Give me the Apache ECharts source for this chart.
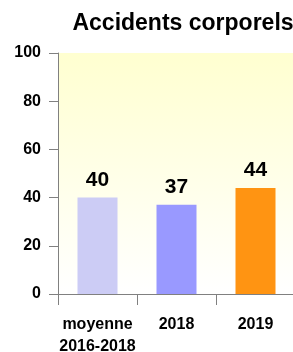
<!DOCTYPE html>
<html>
<head>
<meta charset="utf-8">
<script src="https://cdn.jsdelivr.net/npm/echarts@6/dist/echarts.min.js"></script>
<style>
  html, body { margin: 0; padding: 0; background: #fff; }
  #chart { width: 293px; height: 352px; }
</style>
</head>
<body>
<div id="chart"></div>
<script>
// données
const categories = ['moyenne\n2016-2018', '2018', '2019']
const values = [40, 37, 44]
const barColors = ['#ccccf5', '#9999ff', '#ff9412']
const yTicks = [0, 20, 40, 60, 80, 100]

const chart = echarts.init(document.getElementById('chart'))
const font = '"Liberation Sans", Arial, sans-serif'

const option = {
  animation: false,
  title: {
    text: 'Accidents corporels',
    left: 178,
    top: 7,
    textAlign: 'center',
    textStyle: { fontFamily: font, fontSize: 23, fontWeight: 'bold', color: '#000' }
  },
  grid: {
    left: 58,
    right: -2,
    top: 53,
    bottom: 58,
    outerBoundsMode: 'none',
    containLabel: false,
    show: true,
    borderWidth: 0,
    // fond dégradé jaune pâle -> blanc
    backgroundColor: new echarts.graphic.LinearGradient(0, 0, 0, 1, [
      { offset: 0, color: '#ffffd0' },
      { offset: 1, color: '#ffffff' }
    ])
  },
  xAxis: {
    type: 'category',
    data: categories,
    axisLine: { lineStyle: { color: '#808080', width: 1 } },
    axisTick: { show: true, length: 11, interval: 0, lineStyle: { color: '#808080' } },
    axisLabel: {
      interval: 0,
      margin: 20,
      fontFamily: font,
      fontSize: 16,
      fontWeight: 'bold',
      color: '#000',
      lineHeight: 22
    }
  },
  yAxis: {
    type: 'value',
    min: yTicks[0],
    max: yTicks[yTicks.length - 1],
    interval: 20,
    splitLine: { show: false },
    axisLine: { show: true, lineStyle: { color: '#808080', width: 1 } },
    axisTick: { show: true, length: 9, lineStyle: { color: '#808080' } },
    axisLabel: {
      margin: 17,
      fontFamily: font,
      fontSize: 16,
      fontWeight: 'bold',
      color: '#000'
    }
  },
  series: [
    {
      type: 'bar',
      barWidth: 40,
      data: values.map((v, i) => ({ value: v, itemStyle: { color: barColors[i] } })),
      label: {
        show: true,
        position: 'top',
        distance: 7,
        fontFamily: font,
        fontSize: 21,
        fontWeight: 'bold',
        color: '#000'
      }
    }
  ]
}
chart.setOption(option)
</script>
</body>
</html>
